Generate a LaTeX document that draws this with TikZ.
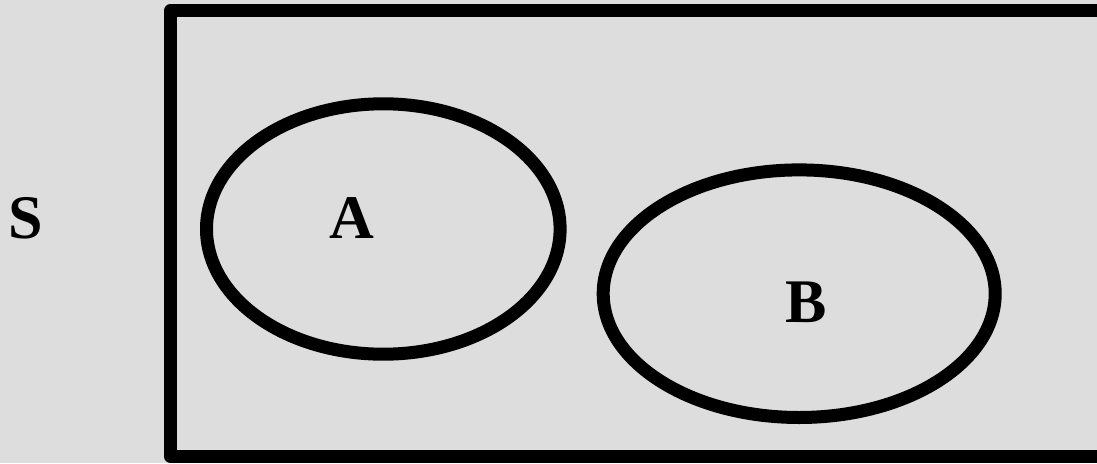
\documentclass[tikz,border=0pt]{standalone}
\usepackage{fontspec}
\setmainfont{Liberation Serif}
\usetikzlibrary{shapes.geometric}
\definecolor{bg}{RGB}{221,221,221}
\tikzset{
  set/.style={ellipse, draw=black, line width=13pt, inner sep=0pt, outer sep=0pt, fill=none},
  lbl/.style={inner sep=0pt, font=\fontsize{62}{70}\selectfont\bfseries, text=black},
  frame/.style={draw=black, line width=13pt, line join=round, inner sep=0pt, outer sep=0pt}
}
\begin{document}
\begin{tikzpicture}[x=1pt,y=-1pt]
\useasboundingbox (0,0) rectangle (1097,463);
\fill[bg] (0,0) rectangle (1097,463);
\begin{scope}
\clip (0,0) rectangle (1097,463);
\node[frame, minimum width=960pt, minimum height=446pt, anchor=north west] (S) at (170.5,10.5) {};
\end{scope}
\node[set, minimum width=353.6pt, minimum height=250.4pt] (A) at (383.3,229) {};
\node[set, minimum width=392pt, minimum height=247.6pt] (B) at (799.2,293.7) {};
\node[lbl] (sl) at (26,218) {S};
\node[lbl] (al) at (351.5,218) {A};
\node[lbl] (bl) at (806,302.5) {B};
\end{tikzpicture}
\end{document}
